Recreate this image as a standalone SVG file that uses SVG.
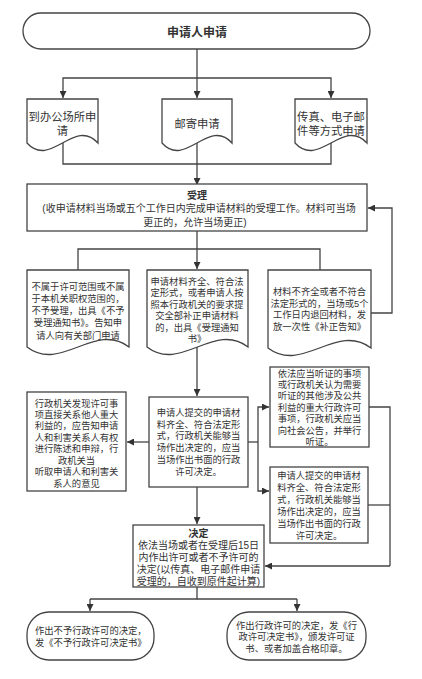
<svg xmlns="http://www.w3.org/2000/svg" width="422" height="679" viewBox="0 0 422 679">
<defs>
<marker id="ah" viewBox="0 0 10 10" refX="10" refY="5" markerWidth="7" markerHeight="7" orient="auto" markerUnits="userSpaceOnUse">
<path d="M0,0 L10,5 L0,10 Z" fill="#333"/>
</marker>
<style>
.s{fill:#fff;stroke:#444;stroke-width:1.3}
.c{fill:none;stroke:#444;stroke-width:1.3}
.a{fill:none;stroke:#444;stroke-width:1.3;marker-end:url(#ah)}
text{font-family:"Liberation Sans","Noto Sans CJK SC",sans-serif;fill:#333;text-anchor:middle}
.t{font-size:9.3px}
.m{font-size:10px}
.L{font-size:11.3px}
.b{font-weight:bold}
.l{text-anchor:start}
</style>
</defs>
<rect width="422" height="679" fill="#fff"/>

<g id="connectors">
<path class="a" d="M197,49 V98"/>
<path class="a" d="M197,78 H63 V98"/>
<path class="a" d="M197,78 H331 V98"/>
<path class="c" d="M63,143 V164 H331 V143"/>
<path class="a" d="M197,143 V185"/>
<path class="a" d="M197,231 V269"/>
<path class="c" d="M78,270 V249 H320 V270"/>
<path class="a" d="M371,313 H392 V208 H368"/>
<path class="a" d="M197,347 V396"/>
<path class="a" d="M149,442 H127"/>
<path class="c" d="M248,442 H258"/>
<path class="a" d="M258,442 V407 H269"/>
<path class="a" d="M258,442 V491 H269"/>
<path class="c" d="M369,407 H390 V566"/>
<path class="c" d="M368,505 H390"/>
<path class="a" d="M390,566 H265"/>
<path class="a" d="M197,487 V524"/>
<path class="c" d="M197,587 V599 H90"/>
<path class="c" d="M197,599 H297"/>
<path class="a" d="M90,599 V611"/>
<path class="a" d="M297,599 V611"/>
</g>

<g id="apply">
<rect class="s" x="23" y="13" width="347" height="36" rx="18"/>
<text class="b" x="197" y="36.5" style="font-size:12px">申请人申请</text>
</g>

<g id="onsite">
<path class="s" d="M27,99 H98 V143 C74.3,117 50.7,169 27,143 Z"/>
<text class="L" x="62.5" y="121">到办公场所申</text>
<text class="L" x="62.5" y="135">请</text>
</g>
<g id="mail">
<path class="s" d="M162,99 H232 V143 C208.7,117 185.3,169 162,143 Z"/>
<text class="L" x="197" y="128">邮寄申请</text>
</g>
<g id="fax">
<path class="s" d="M295,99 H367 V143 C343,117 319,169 295,143 Z"/>
<text class="L" x="331" y="120.5">传真、电子邮</text>
<text class="L" x="331" y="134.5">件等方式申请</text>
</g>

<g id="accept">
<rect class="s" x="27" y="184" width="340" height="47"/>
<text class="m b" x="197" y="198.5">受理</text>
<text class="m" x="199" y="211.5">(收申请材料当场或五个工作日内完成申请材料的受理工作。材料可当场</text>
<text class="m" x="195" y="225.5">更正的，允许当场更正)</text>
</g>

<g id="reject">
<path class="s" d="M27,270 H129 V347 C95,321 61,373 27,347 Z"/>
<text class="t" x="78" y="290">不属于许可范围或不属</text>
<text class="t" x="78" y="302.1">于本机关职权范围的，</text>
<text class="t" x="78" y="314.2">不予受理，出具《不予</text>
<text class="t" x="78" y="326.4">受理通知书》。告知申</text>
<text class="t" x="78" y="338.5">请人向有关部门申请</text>
</g>
<g id="complete">
<path class="s" d="M147,270 H248 V347 C214.3,321 180.7,373 147,347 Z"/>
<text class="t" x="197" y="285">申请材料齐全、符合法</text>
<text class="t" x="197" y="296.4">定形式，或者申请人按</text>
<text class="t" x="197" y="307.8">照本行政机关的要求提</text>
<text class="t" x="197" y="319.2">交全部补正申请材料</text>
<text class="t" x="197" y="330.6">的，出具《受理通知</text>
<text class="t" x="197" y="342">书》</text>
</g>
<g id="incomplete">
<path class="s" d="M268,270 H371 V348 C336.7,322 302.3,374 268,348 Z"/>
<text class="t" x="319.5" y="295">材料不齐全或者不符合</text>
<text class="t" x="319.5" y="306.7">法定形式的，当场或5个</text>
<text class="t" x="319.5" y="318.3">工作日内退回材料，发</text>
<text class="t" x="319.5" y="330">放一次性《补正告知》</text>
</g>

<g id="review">
<rect class="s" x="149" y="397" width="99" height="90"/>
<text class="t" x="198.5" y="416">申请人提交的申请材</text>
<text class="t" x="198.5" y="427.7">料齐全、符合法定形</text>
<text class="t" x="198.5" y="439.4">式，行政机关能够当</text>
<text class="t" x="198.5" y="451.1">场作出决定的，应当</text>
<text class="t" x="198.5" y="462.8">当场作出书面的行政</text>
<text class="t" x="198.5" y="474.5">许可决定。</text>
</g>

<g id="interest">
<rect class="s" x="27" y="392" width="99" height="99"/>
<text class="t" x="76.5" y="406.5">行政机关发现许可事</text>
<text class="t" x="76.5" y="417.9">项直接关系他人重大</text>
<text class="t" x="76.5" y="429.4">利益的，应告知申请</text>
<text class="t" x="76.5" y="440.8">人和利害关系人有权</text>
<text class="t" x="76.5" y="452.2">进行陈述和申辩，行</text>
<text class="t" x="76.5" y="463.6">政机关当</text>
<text class="t" x="76.5" y="475.1">听取申请人和利害关</text>
<text class="t" x="76.5" y="486.5">系人的意见</text>
</g>

<g id="hearing">
<rect class="s" x="270" y="367" width="99" height="80"/>
<text class="t" x="319.5" y="376.5">依法应当听证的事项</text>
<text class="t" x="319.5" y="387.9">或行政机关认为需要</text>
<text class="t" x="319.5" y="399.3">听证的其他涉及公共</text>
<text class="t" x="319.5" y="410.8">利益的重大行政许可</text>
<text class="t" x="319.5" y="422.2">事项，行政机关应当</text>
<text class="t" x="319.5" y="433.6">向社会公告，并举行</text>
<text class="t" x="319.5" y="445">听证。</text>
</g>

<g id="onspot">
<rect class="s" x="270" y="467" width="98" height="76"/>
<text class="t" x="319" y="478.5">申请人提交的申请材</text>
<text class="t" x="319" y="490.5">料齐全、符合法定形</text>
<text class="t" x="319" y="502.5">式，行政机关能够当</text>
<text class="t" x="319" y="514.5">场作出决定的，应当</text>
<text class="t" x="319" y="526.5">当场作出书面的行政</text>
<text class="t" x="319" y="538.5">许可决定。</text>
</g>

<g id="decide">
<rect class="s" x="133" y="525" width="131" height="62"/>
<text class="m b" x="198.5" y="536.5">决定</text>
<text class="m" x="198.5" y="548.5">依法当场或者在受理后15日</text>
<text class="m" x="198.5" y="560.5">内作出许可或者不予许可的</text>
<text class="m" x="198.5" y="572.5">决定(以传真、电子邮件申请</text>
<text class="m" x="198.5" y="584.5">受理的，自收到原件起计算)</text>
</g>

<g id="deny">
<rect class="s" x="27" y="612" width="127" height="48" rx="22"/>
<text class="t l" x="35" y="633.5">作出不予行政许可的决定，</text>
<text class="t l" x="35" y="645.5">发《不予行政许可决定书》</text>
</g>

<g id="grant">
<rect class="s" x="227" y="612" width="139" height="48" rx="22"/>
<text class="t" x="296.5" y="628.5">作出行政许可的决定，发《行</text>
<text class="t" x="296.5" y="640">政许可决定书》，颁发许可证</text>
<text class="t" x="296.5" y="651.5">书、或者加盖合格印章。</text>
</g>
</svg>
